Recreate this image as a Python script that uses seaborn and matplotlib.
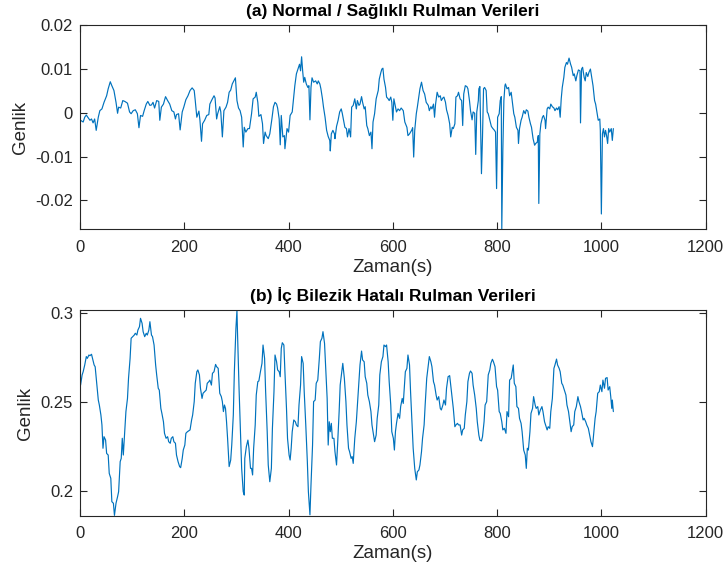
import numpy as np
import pandas as pd
import matplotlib
matplotlib.use("Agg")
import matplotlib.pyplot as plt
from matplotlib.ticker import FuncFormatter
import seaborn as sns

# --- (a) healthy bearing: time (s) and amplitude ---
t_normal = [
    1, 6, 9, 12, 15, 19, 22, 25, 28, 31, 35, 38, 42, 46, 51, 54, 58, 61, 65, 69,
    72, 74, 78, 82, 86, 91, 95, 98, 102, 106, 110, 113, 116, 120, 123, 127, 130, 134, 137, 140,
    143, 147, 151, 153, 156, 160, 164, 168, 172, 176, 180, 183, 185, 189, 192, 196, 199, 203, 207, 211,
    215, 219, 221, 224, 228, 230, 233, 235, 239, 243, 247, 249, 253, 257,
    259, 262, 264, 268, 270, 273, 276, 280, 283, 286, 289, 292, 295, 298, 301, 304, 307, 310, 313, 315,
    318, 322, 325, 329, 332, 336, 338, 341, 343, 347, 350, 352, 355, 357, 361, 364, 368, 371, 374, 377,
    379, 382, 384, 386, 389, 392, 393, 397, 400, 403, 407, 410, 412, 415, 418, 421, 423, 425, 427, 429,
    431, 434, 437, 439, 441, 443, 445, 448, 452, 455, 457, 460, 462, 465, 467, 470, 473, 476, 479, 480,
    482, 485, 488, 489, 492, 495, 498, 501, 503, 506, 508, 511, 513, 516, 519, 521, 524,
    527, 530, 532, 535, 537, 540, 542, 545, 547, 550, 552, 555, 558, 560, 562, 565, 568, 572, 574, 577,
    579, 581, 583, 586, 588, 591, 593, 596, 598, 600, 602, 604, 607, 610, 613, 616, 620, 623, 627, 629,
    632, 636, 638, 640, 642, 645, 647, 650, 652, 655, 658, 661, 664, 668, 670, 673, 675, 678, 680, 682,
    685, 688, 691, 693, 696, 698, 701, 703, 706, 709, 711, 714, 716, 719, 721, 724, 726, 729, 732, 734,
    736, 739, 742, 744, 747, 749, 752, 754, 757, 759, 761, 764, 765, 767, 770, 772, 774, 776, 779, 781,
    783, 786, 789, 792, 795, 797, 799, 801, 804, 806, 808, 809, 811, 813, 815, 816, 819, 822, 824, 827,
    829, 832, 834, 837, 840, 841, 843, 846, 848, 851, 854, 856, 859, 861, 864, 866, 869, 872, 874, 877,
    879, 880, 882, 884, 887, 889, 892, 893, 896, 898, 901, 903, 906, 909, 911, 914, 916, 919, 921, 923,
    925, 928, 930, 933, 935, 938, 941, 943, 946, 948, 951, 953, 956, 959, 960, 962, 964, 967, 969, 971,
    974, 976, 979, 981, 984, 987, 989, 992, 994, 997, 998, 1000, 1002, 1004, 1006, 1008, 1010, 1012, 1014, 1016,
    1019, 1021, 1023,
]
amp_normal = [
    -0.0017, -0.0021, -0.0010, -0.0005, -0.0010, -0.0017, -0.0014, -0.0023, -0.0014, -0.0040,
    -0.0010, 0.0005, 0.0009, 0.0024, 0.0039, 0.0055, 0.0071, 0.0062, 0.0051, 0.0024,
    -0.0001, 0.0013, 0.0011, 0.0028, 0.0026, 0.0022, 0.0002, -0.0002, 0.0005, 0.0007,
    -0.0002, -0.0034, -0.0006, -0.0008, 0.0005, 0.0020, 0.0026, 0.0017, 0.0018, 0.0024,
    0.0011, 0.0028, 0.0026, -0.0017, 0.0013, 0.0020, 0.0037, 0.0028, 0.0020, 0.0005,
    0.0002, -0.0014, -0.0004, -0.0002, -0.0039, 0.0002, 0.0013, 0.0030, 0.0039, 0.0051,
    0.0057, 0.0051, 0.0028, -0.0010, 0.0004, -0.0017, -0.0065, -0.0025, -0.0017, -0.0006,
    -0.0004, 0.0020, 0.0030, 0.0039,
    0.0034, -0.0014, -0.0002, 0.0014, 0.0002, -0.0055, 0.0005, 0.0013, 0.0024, 0.0047,
    0.0052, 0.0066, 0.0073, 0.0080, 0.0028, 0.0011, 0.0005, -0.0010, -0.0078, -0.0033,
    -0.0044, -0.0036, -0.0036, -0.0002, 0.0032, 0.0036, 0.0047, 0.0024, -0.0008, -0.0004,
    -0.0025, -0.0070, -0.0044, -0.0052, -0.0059, -0.0048, -0.0014, 0.0014, 0.0024, 0.0020,
    0.0011, -0.0014, -0.0073, -0.0006, -0.0055, -0.0052, -0.0082, -0.0036, -0.0044, -0.0006,
    0.0002, 0.0039, 0.0062, 0.0089, 0.0100, 0.0111, 0.0096, 0.0128, 0.0096, 0.0070,
    0.0081, 0.0066, 0.0058, 0.0062, -0.0016, 0.0058, 0.0080, 0.0070, 0.0073, 0.0066,
    0.0073, 0.0066, 0.0055, 0.0032, 0.0013, -0.0010, -0.0040, -0.0054, -0.0063, -0.0087,
    -0.0048, -0.0040, -0.0048, -0.0059, -0.0031, -0.0017, 0.0002, 0.0009, -0.0001, -0.0021,
    -0.0033, -0.0036, -0.0055, -0.0036, -0.0055, 0.0013, 0.0017,
    0.0032, 0.0009, 0.0028, 0.0017, 0.0020, 0.0037, 0.0024, 0.0009, 0.0014, -0.0029,
    -0.0036, -0.0052, -0.0044, -0.0082, -0.0021, -0.0002, 0.0032, 0.0051, 0.0077, 0.0092,
    0.0100, 0.0102, 0.0077, 0.0058, 0.0036, 0.0032, 0.0028, 0.0036, 0.0024, -0.0017,
    0.0032, 0.0020, 0.0002, 0.0009, 0.0005, 0.0011, 0.0005, -0.0021, -0.0033, -0.0052,
    -0.0048, -0.0040, -0.0034, -0.0101, -0.0040, -0.0002, 0.0013, 0.0039, 0.0055, 0.0070,
    0.0051, 0.0043, 0.0024, 0.0017, 0.0005, 0.0014, 0.0009, 0.0020, -0.0010, 0.0020,
    0.0047, 0.0036, 0.0039, 0.0028, 0.0034, 0.0036, 0.0024, 0.0007, -0.0006, -0.0025,
    -0.0055, -0.0033, -0.0036, -0.0025, 0.0036, 0.0039, 0.0047, 0.0032, 0.0028, -0.0029,
    0.0043, 0.0062, 0.0060, 0.0055, 0.0028, 0.0005, -0.0016, 0.0002, -0.0001, -0.0095,
    0.0002, 0.0028, 0.0055, 0.0060, -0.0139, -0.0055, 0.0055, 0.0058, 0.0051, 0.0002,
    -0.0002, -0.0017, -0.0031, -0.0036, -0.0040, -0.0044, -0.0173, -0.0010, -0.0002, 0.0028,
    0.0037, -0.0266, -0.0086, 0.0028, 0.0062, 0.0066, 0.0055, 0.0058, 0.0039, 0.0047,
    0.0028, -0.0002, -0.0010, -0.0033, -0.0040, -0.0070, -0.0036, -0.0017, -0.0010, 0.0005,
    -0.0002, 0.0007, 0.0004, -0.0010, -0.0025, -0.0033, -0.0059, -0.0074, -0.0070, -0.0067,
    -0.0052, -0.0207, -0.0048, -0.0025, -0.0010, -0.0006, -0.0017, -0.0036, 0.0009, 0.0013,
    0.0009, 0.0020, 0.0014, 0.0011, 0.0005, 0.0011, 0.0007, 0.0014, -0.0010, 0.0032,
    0.0058, 0.0081, 0.0104, 0.0115, 0.0111, 0.0125, 0.0111, 0.0104, 0.0085, 0.0089,
    0.0073, 0.0085, 0.0098, 0.0096, -0.0023, 0.0100, 0.0104, 0.0081, 0.0073, 0.0092,
    0.0083, 0.0092, 0.0100, 0.0085, 0.0062, 0.0028, 0.0020, -0.0002, -0.0017, -0.0014,
    -0.0040, -0.0231, -0.0048, -0.0036, -0.0055, -0.0040, -0.0052, -0.0070, -0.0036, -0.0044,
    -0.0036, -0.0063, -0.0036,
]

# --- (b) inner race fault: time (s) and amplitude ---
t_fault = [
    1, 4, 6, 9, 12, 14, 17, 19, 22, 24, 27, 29, 32, 35, 37, 40, 42, 44, 46, 49,
    51, 54, 56, 59, 61, 64, 66, 69, 72, 74, 77, 79, 81, 83, 86, 88, 91, 93, 96, 98,
    101, 104, 106, 109, 111, 114, 116, 119, 121, 124, 127, 129, 132, 134, 137, 139, 142, 145, 147, 150,
    152, 155, 157, 160, 162, 165, 168, 170, 173, 175, 178, 180, 183, 185, 188, 191, 193, 196, 198, 201,
    203, 206, 208, 211, 214, 216, 219, 221, 224, 226, 229, 231, 234, 236, 239, 242, 244, 247, 249, 252,
    254, 257,
    260, 262, 265, 268, 271, 273, 275, 277, 279, 281, 283, 286, 289, 291, 294, 296, 299, 301, 302, 305,
    308, 310, 313, 315, 316, 319, 322, 324, 327, 329, 331, 333, 336, 338, 341, 343, 346, 349, 351, 354,
    356, 359, 361, 364, 367, 369, 372, 374, 377, 379, 382, 384, 386, 388, 391, 393, 396, 398, 401, 403,
    405, 407, 410, 413, 415, 418, 420, 423, 425, 428, 430, 433, 436, 438, 441, 443, 446, 448, 451, 453,
    456, 459, 461, 464, 466, 469, 471, 474, 476, 478, 480, 482, 484, 487, 489, 492, 494, 497, 499, 502,
    504, 507, 510, 512, 515, 517, 520, 522,
    524, 527, 530, 532, 535, 537, 540, 542, 545, 547, 550, 552, 555, 558, 560, 563, 565, 568, 570, 573,
    575, 578, 581, 583, 586, 588, 591, 593, 596, 598, 601, 603, 605, 607, 610, 613, 615, 618, 620, 622,
    624, 627, 629, 632, 634, 637, 639, 642, 645, 647, 650, 652, 655, 657, 660, 662, 665, 668, 670, 673,
    675, 678, 680, 683, 685, 688, 691, 693, 696, 698, 701, 703, 706, 709, 711, 714, 716, 719, 721, 724,
    726, 729, 732, 734, 737, 739, 742, 744, 747, 749, 752, 754, 757, 760, 762, 765, 767, 770, 772, 775,
    777, 780,
    783, 786, 788, 791, 793, 796, 799, 801, 804, 806, 809, 811, 814, 817, 819, 822, 824, 827, 829, 831,
    833, 836, 838, 841, 843, 846, 848, 851, 854, 856, 858, 860, 863, 865, 868, 870, 873, 875, 878, 880,
    883, 886, 888, 891, 893, 896, 898, 901, 903, 906, 909, 911, 914, 916, 919, 921, 924, 926, 929, 932,
    934, 937, 939, 942, 944, 947, 949, 952, 955, 957, 960, 962, 965, 967, 970, 972, 975, 978, 980, 983,
    985, 988, 990, 993, 996, 998, 1001, 1003, 1006, 1008, 1011, 1013, 1016, 1018, 1020, 1021, 1023,
]
amp_fault = [
    0.2597, 0.2654, 0.2672, 0.2710, 0.2757, 0.2747, 0.2766, 0.2762, 0.2770, 0.2747,
    0.2710, 0.2700, 0.2607, 0.2513, 0.2485, 0.2429, 0.2373, 0.2242, 0.2307, 0.2288,
    0.2213, 0.2204, 0.2101, 0.2073, 0.1942, 0.1933, 0.1865, 0.1933, 0.1970, 0.1998,
    0.2167, 0.2185, 0.2298, 0.2204, 0.2345, 0.2448, 0.2522, 0.2635, 0.2747, 0.2860,
    0.2869, 0.2878, 0.2888, 0.2878, 0.2906, 0.2925, 0.2972, 0.2944, 0.2897, 0.2869,
    0.2888, 0.2878, 0.2906, 0.2953, 0.2878, 0.2869, 0.2822, 0.2710, 0.2654, 0.2579,
    0.2569, 0.2466, 0.2438, 0.2391, 0.2326, 0.2298, 0.2307, 0.2279, 0.2270, 0.2298,
    0.2307, 0.2279, 0.2270, 0.2204, 0.2167, 0.2139, 0.2133, 0.2185, 0.2232, 0.2260,
    0.2326, 0.2335, 0.2339, 0.2345, 0.2401, 0.2429, 0.2504, 0.2607, 0.2672, 0.2682,
    0.2654, 0.2579, 0.2522, 0.2551, 0.2560, 0.2569, 0.2607, 0.2616, 0.2625, 0.2597,
    0.2663, 0.2672,
    0.2713, 0.2700, 0.2691, 0.2551, 0.2532, 0.2504, 0.2448, 0.2485, 0.2466, 0.2391,
    0.2298, 0.2139, 0.2176, 0.2260, 0.2429, 0.2672, 0.2916, 0.3017, 0.2897, 0.2579,
    0.2298, 0.2129, 0.1998, 0.1979, 0.2185, 0.2251, 0.2288, 0.2242, 0.2129, 0.2129,
    0.2092, 0.2242, 0.2373, 0.2541, 0.2616, 0.2620, 0.2672, 0.2719, 0.2822, 0.2747,
    0.2560, 0.2335, 0.2148, 0.2054, 0.2129, 0.2354, 0.2560, 0.2766, 0.2728, 0.2682,
    0.2672, 0.2644, 0.2803, 0.2835, 0.2822, 0.2672, 0.2466, 0.2298, 0.2204, 0.2176,
    0.2242, 0.2335, 0.2401, 0.2391, 0.2373, 0.2363, 0.2485, 0.2597, 0.2757, 0.2719,
    0.2560, 0.2373, 0.2167, 0.1998, 0.1868, 0.2036, 0.2260, 0.2504, 0.2513, 0.2607,
    0.2625, 0.2747, 0.2841, 0.2860, 0.2897, 0.2831, 0.2710, 0.2522, 0.2260, 0.2391,
    0.2335, 0.2382, 0.2298, 0.2298, 0.2223, 0.2148, 0.2260, 0.2448, 0.2597, 0.2672,
    0.2719, 0.2635, 0.2504, 0.2373, 0.2242, 0.2223, 0.2185, 0.2195,
    0.2157, 0.2298, 0.2391, 0.2485, 0.2635, 0.2710, 0.2788, 0.2738, 0.2728, 0.2644,
    0.2607, 0.2541, 0.2504, 0.2448, 0.2373, 0.2316, 0.2279, 0.2316, 0.2410, 0.2485,
    0.2654, 0.2728, 0.2757, 0.2822, 0.2813, 0.2822, 0.2728, 0.2616, 0.2485, 0.2335,
    0.2298, 0.2232, 0.2335, 0.2382, 0.2438, 0.2410, 0.2476, 0.2522, 0.2494, 0.2579,
    0.2672, 0.2691, 0.2766, 0.2710, 0.2560, 0.2373, 0.2242, 0.2129, 0.2064, 0.2110,
    0.2120, 0.2148, 0.2223, 0.2298, 0.2373, 0.2485, 0.2635, 0.2710, 0.2757, 0.2728,
    0.2700, 0.2616, 0.2597, 0.2541, 0.2513, 0.2532, 0.2466, 0.2457, 0.2485, 0.2513,
    0.2485, 0.2579, 0.2644, 0.2650, 0.2597, 0.2522, 0.2466, 0.2363, 0.2373, 0.2382,
    0.2373, 0.2373, 0.2316, 0.2345, 0.2354, 0.2429, 0.2504, 0.2616, 0.2663, 0.2676,
    0.2663, 0.2597, 0.2541, 0.2466, 0.2391, 0.2316, 0.2288, 0.2283, 0.2307, 0.2391,
    0.2485, 0.2504,
    0.2654, 0.2682, 0.2719, 0.2742, 0.2728, 0.2700, 0.2588, 0.2569, 0.2448, 0.2438,
    0.2391, 0.2345, 0.2354, 0.2326, 0.2448, 0.2419, 0.2625, 0.2635, 0.2672, 0.2710,
    0.2607, 0.2588, 0.2476, 0.2466, 0.2410, 0.2382, 0.2335, 0.2232, 0.2204, 0.2129,
    0.2242, 0.2232, 0.2335, 0.2438, 0.2466, 0.2532, 0.2485, 0.2466, 0.2476, 0.2429,
    0.2457, 0.2476, 0.2448, 0.2391, 0.2373, 0.2345, 0.2363, 0.2354, 0.2448, 0.2522,
    0.2691, 0.2710, 0.2743, 0.2710, 0.2691, 0.2672, 0.2607, 0.2597, 0.2569, 0.2541,
    0.2485, 0.2448, 0.2401, 0.2335, 0.2363, 0.2373, 0.2448, 0.2476, 0.2532, 0.2504,
    0.2476, 0.2448, 0.2401, 0.2410, 0.2391, 0.2373, 0.2354, 0.2307, 0.2279, 0.2251,
    0.2316, 0.2410, 0.2448, 0.2551, 0.2560, 0.2597, 0.2560, 0.2625, 0.2579, 0.2635,
    0.2639, 0.2569, 0.2588, 0.2532, 0.2466, 0.2513, 0.2448,
]

titles = ["(a) Normal / Sağlıklı Rulman Verileri", "(b) İç Bilezik Hatalı Rulman Verileri"]
x_label = "Zaman(s)"
y_label = "Genlik"
x_ticks = [0, 200, 400, 600, 800, 1000, 1200]
y_ticks_normal = [-0.02, -0.01, 0, 0.01, 0.02]
y_ticks_fault = [0.2, 0.25, 0.3]

sns.set_style("ticks")
plt.rcParams["font.family"] = ["Liberation Sans", "DejaVu Sans"]
plt.rcParams["axes.unicode_minus"] = False

line_color = "#0072BD"
frame_color = "#262626"

fig = plt.figure(figsize=(7.27, 5.77), dpi=100)
ax_a = fig.add_axes([0.1101, 0.6026, 0.8605, 0.3536])
ax_b = fig.add_axes([0.1101, 0.1062, 0.8605, 0.3560])

df_a = pd.DataFrame({"t": t_normal, "amp": amp_normal})
df_b = pd.DataFrame({"t": t_fault, "amp": amp_fault})

sns.lineplot(data=df_a, x="t", y="amp", ax=ax_a, color=line_color,
             linewidth=0.85, estimator=None, sort=False)
sns.lineplot(data=df_b, x="t", y="amp", ax=ax_b, color=line_color,
             linewidth=0.85, estimator=None, sort=False)


def fmt(v, _pos):
    s = f"{v:.2f}".rstrip("0").rstrip(".")
    return "0" if s in ("-0", "0") else s


for ax, title, yt, ylim in [
    (ax_a, titles[0], y_ticks_normal, (-0.0266, 0.02)),
    (ax_b, titles[1], y_ticks_fault, (0.1863, 0.3017)),
]:
    ax.set_xlim(0, 1200)
    ax.set_ylim(*ylim)
    ax.set_xticks(x_ticks)
    ax.set_yticks(yt)
    ax.yaxis.set_major_formatter(FuncFormatter(fmt))
    ax.set_title(title, fontsize=12.5, fontweight="bold", pad=7, color="black")
    ax.set_xlabel(x_label, fontsize=13.5, labelpad=3, color=frame_color)
    ax.set_ylabel(y_label, fontsize=13.5, labelpad=4.5, color=frame_color)
    ax.tick_params(direction="in", length=5, width=0.8, labelsize=12,
                   colors=frame_color, top=True, right=True)
    ax.tick_params(axis="x", pad=7.5)
    ax.tick_params(axis="y", pad=5)
    for sp in ax.spines.values():
        sp.set_visible(True)
        sp.set_color(frame_color)
        sp.set_linewidth(0.8)

fig.savefig("out.png", dpi=100)
